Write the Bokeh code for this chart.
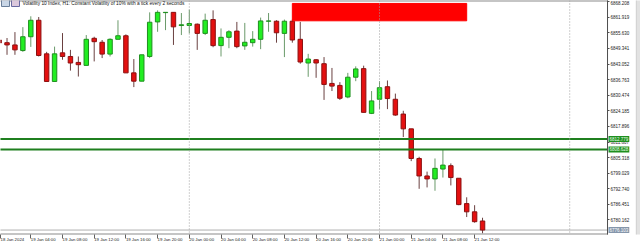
from bokeh.plotting import figure
from bokeh.models import (ColumnDataSource, Range1d, FixedTicker, Label,
                          BoxAnnotation, NumeralTickFormatter, Span)
from bokeh.embed import file_html
from bokeh.resources import INLINE

# ---- data (H1 bars, 19 Jan 2024 00:00 .. 21 Jan 2024 13:00) ----
opens = [6852.76, 6851.68, 6850.77, 6848.50, 6854.07, 6860.72, 6847.18, 6836.03, 6847.58, 6846.11,
         6843.72, 6842.52, 6853.44, 6851.84, 6847.07, 6853.04, 6854.47, 6839.50, 6836.15, 6846.11,
         6860.05, 6863.80, 6863.91, 6858.60, 6858.61, 6859.13, 6855.43, 6861.00, 6850.49, 6853.84,
         6856.34, 6850.37, 6851.68, 6853.04, 6860.33, 6860.33, 6855.43, 6860.33, 6853.04, 6843.48,
         6844.79, 6843.20, 6835.24, 6834.44, 6829.78, 6837.75, 6841.21, 6823.17, 6828.86, 6833.92,
         6828.86, 6822.89, 6816.92, 6804.97, 6797.92, 6796.73, 6800.71, 6802.06, 6797.00, 6786.77,
         6783.46, 6779.76]
highs = [6853.56, 6853.56, 6855.95, 6857.94, 6862.32, 6862.04, 6847.98, 6850.09, 6855.55, 6848.78,
         6846.11, 6854.75, 6854.07, 6852.76, 6853.44, 6860.72, 6855.03, 6845.07, 6846.79, 6863.91,
         6864.71, 6864.00, 6863.91, 6863.63, 6864.99, 6859.41, 6863.39, 6864.71, 6857.42, 6856.74,
         6860.05, 6859.65, 6856.34, 6861.80, 6863.63, 6860.72, 6861.00, 6861.00, 6860.05, 6847.18,
         6845.07, 6845.87, 6841.49, 6835.75, 6839.50, 6842.13, 6842.41, 6832.17, 6836.15, 6836.43,
         6831.14, 6824.21, 6816.92, 6805.65, 6799.67, 6804.97, 6808.67, 6802.98, 6797.00, 6789.32,
         6786.13, 6781.07]
lows = [6850.77, 6846.79, 6846.79, 6847.98, 6849.97, 6846.11, 6836.03, 6836.03, 6844.79, 6840.41,
        6838.02, 6842.52, 6844.12, 6845.47, 6846.11, 6853.04, 6839.50, 6833.76, 6836.15, 6845.47,
        6856.07, 6856.74, 6850.77, 6854.75, 6855.43, 6848.78, 6854.75, 6849.85, 6846.11, 6849.45,
        6849.45, 6848.78, 6850.09, 6849.06, 6856.07, 6851.68, 6845.87, 6851.68, 6843.20, 6837.91,
        6837.51, 6828.59, 6832.17, 6828.59, 6829.26, 6836.15, 6823.57, 6822.89, 6824.88, 6824.88,
        6822.21, 6813.61, 6803.90, 6792.74, 6793.30, 6791.95, 6797.28, 6794.10, 6786.13, 6781.35,
        6779.08, 6774.82]
closes = [6851.57, 6850.77, 6848.78, 6854.07, 6860.72, 6846.51, 6836.03, 6847.18, 6846.11, 6843.48,
          6842.80, 6853.04, 6852.08, 6847.07, 6853.04, 6854.47, 6839.50, 6836.15, 6846.79, 6859.93,
          6863.91, 6863.91, 6858.06, 6858.90, 6859.41, 6855.43, 6860.72, 6850.49, 6853.84, 6856.07,
          6850.09, 6851.84, 6853.04, 6860.45, 6860.45, 6855.67, 6860.33, 6852.76, 6843.88, 6845.07,
          6843.48, 6834.84, 6834.16, 6829.26, 6837.75, 6841.09, 6823.57, 6828.19, 6833.52, 6829.14,
          6822.49, 6816.92, 6804.97, 6797.92, 6796.73, 6800.99, 6802.30, 6797.28, 6786.37, 6783.46,
          6779.48, 6776.103]
bar_index = list(range(len(opens)))

x_tick_pos = [0.18, 4, 8, 12, 16, 20, 24, 28, 32, 36, 40, 44, 48, 52, 56, 60]
x_tick_labels = ["18 Jan 2024", "19 Jan 04:00", "19 Jan 08:00", "19 Jan 12:00", "19 Jan 16:00",
                 "19 Jan 20:00", "20 Jan 00:00", "20 Jan 04:00", "20 Jan 08:00", "20 Jan 12:00",
                 "20 Jan 16:00", "20 Jan 20:00", "21 Jan 00:00", "21 Jan 04:00", "21 Jan 08:00",
                 "21 Jan 12:00"]
y_ticks = [6868.208, 6861.919, 6855.630, 6849.341, 6843.052, 6836.763, 6830.474, 6824.185,
           6817.896, 6811.607, 6805.318, 6799.029, 6792.740, 6786.451, 6780.162]
day_breaks = [24, 48, 72]
levels = [6812.779, 6808.628]
zone_start, zone_end = 37, 59
zone_top, zone_bottom = 6867.5, 6860.5
title_text = "Volatility 10 Index, H1:  Constant Volatility of 10% with a tick every 2 seconds"

# ---- layout / styling ----
X0, X1 = 0.177, 80.93          # visible bar-index window (full canvas width)
SCALE_X = 76.77                 # bar-index where the price scale sits
SCROLL_X = 80.4                 # window scrollbar strip start
Y0, Y1 = 6774.31, 6868.69
BULL_FILL, BULL_LINE, BULL_WICK = "#22ee22", "#1f8f1f", "#6a9a6a"
BEAR_FILL, BEAR_LINE, BEAR_WICK = "#e41010", "#8b1010", "#6a4040"
FONT = "Liberation Sans"

up = [c >= o for o, c in zip(opens, closes)]
src = ColumnDataSource(dict(
    x=bar_index,
    top=[max(o, c) for o, c in zip(opens, closes)],
    bottom=[min(o, c) for o, c in zip(opens, closes)],
    high=highs, low=lows,
    fill=[BULL_FILL if u else BEAR_FILL for u in up],
    line=[BULL_LINE if u else BEAR_LINE for u in up],
    wick=[BULL_WICK if u else BEAR_WICK for u in up],
))

p = figure(width=640, height=247, output_backend="svg", toolbar_location=None,
           x_range=Range1d(X0, X1), y_range=Range1d(Y0, Y1),
           y_axis_location="right", x_axis_location="below",
           min_border_left=0, min_border_top=0, min_border_right=0, min_border_bottom=10)
p.xgrid.visible = False
p.ygrid.visible = False
p.background_fill_color = "white"
p.border_fill_color = "white"
p.outline_line_color = None

for d in day_breaks:
    p.add_layout(Span(location=d, dimension="height", line_color="#a0a0a0",
                      line_dash="1 2", line_width=1))

# chart frame lines (top / bottom up to the price scale) and the scale line
p.segment(x0=[X0 - 1, X0 - 1], x1=[SCALE_X, SCALE_X], y0=[Y1, Y0], y1=[Y1, Y0],
          line_color="#8c8c8c", line_width=2)
p.segment(x0=[SCALE_X], x1=[SCALE_X], y0=[Y0 - 1], y1=[Y1 + 1],
          line_color="#505050", line_width=1)

# bid line
p.segment(x0=[X0 - 1], x1=[SCALE_X], y0=[closes[-1]], y1=[closes[-1]],
          line_color="#b0b0b0", line_width=1)

p.segment(x0="x", x1="x", y0="high", y1="low", line_color="wick", line_width=1, source=src)
p.vbar(x="x", width=0.56, top="top", bottom="bottom", fill_color="fill",
       line_color="line", line_width=1, source=src)

p.quad(left=[zone_start], right=[zone_end], top=[zone_top], bottom=[zone_bottom],
       fill_color="#ff0000", line_color="#ff0000")

p.segment(x0=[X0 - 1] * len(levels), x1=[SCALE_X] * len(levels), y0=levels, y1=levels,
          line_color="#1f7f1f", line_width=2)

# window scrollbar strip at the far right
p.quad(left=[SCROLL_X], right=[X1 + 1], top=[Y1 + 1], bottom=[Y0 - 1],
       fill_color="#e2e2e2", line_color="#cfcfcf")

# axes
ya = p.yaxis[0]
ya.fixed_location = SCALE_X
ya.ticker = FixedTicker(ticks=y_ticks)
ya.formatter = NumeralTickFormatter(format="0.000")
ya.major_tick_out = 2
ya.major_tick_in = 0
ya.minor_tick_out = 0
ya.minor_tick_in = 0
ya.major_label_standoff = 1
ya.axis_line_color = "#505050"
ya.major_tick_line_color = "#505050"
ya.major_label_text_font = FONT
ya.major_label_text_font_size = "4.5px"
ya.major_label_text_color = "#222222"

xa = p.xaxis[0]
xa.ticker = FixedTicker(ticks=x_tick_pos)
xa.major_label_overrides = {t: s for t, s in zip(x_tick_pos, x_tick_labels)}
xa.major_label_orientation = -1e-6
xa.major_tick_out = 4
xa.major_tick_in = 0
xa.minor_tick_out = 0
xa.minor_tick_in = 0
xa.major_label_standoff = 1
xa.axis_line_color = None
xa.major_tick_line_color = "#606060"
xa.major_label_text_font = FONT
xa.major_label_text_font_size = "4.3px"
xa.major_label_text_color = "#222222"

# price labels on the scale
for lv in levels:
    p.add_layout(Label(x=608, x_units="screen", y=lv, y_units="data", text=f"{lv:.3f}",
                       text_font=FONT, text_font_size="4.5px", text_color="#e8ffe8",
                       text_align="left", text_baseline="middle", level="overlay",
                       background_fill_color="#1f8f1f", padding=1))
p.add_layout(Label(x=608, x_units="screen", y=closes[-1], y_units="data",
                   text=f"{closes[-1]:.3f}",
                   text_font=FONT, text_font_size="4.5px", text_color="#ffffff",
                   text_align="left", text_baseline="middle", level="overlay",
                   background_fill_color="#8596ab", padding=1))

# header
p.add_layout(BoxAnnotation(left=1, right=9, top=235, bottom=228, left_units="screen",
                           right_units="screen", top_units="screen", bottom_units="screen",
                           fill_color="#c9d6e6", fill_alpha=1, line_color="#6a7f9a", line_alpha=1))
p.add_layout(BoxAnnotation(left=11, right=19, top=235, bottom=228, left_units="screen",
                           right_units="screen", top_units="screen", bottom_units="screen",
                           fill_color="#dcc8dc", fill_alpha=1, line_color="#6a6aa0", line_alpha=1))
p.add_layout(Label(x=22, x_units="screen", y=231.5, y_units="screen", text=title_text,
                   text_font=FONT, text_font_size="4.8px", text_color="#111111",
                   text_align="left", text_baseline="middle"))

open("out.html", "w").write(file_html(p, INLINE))
